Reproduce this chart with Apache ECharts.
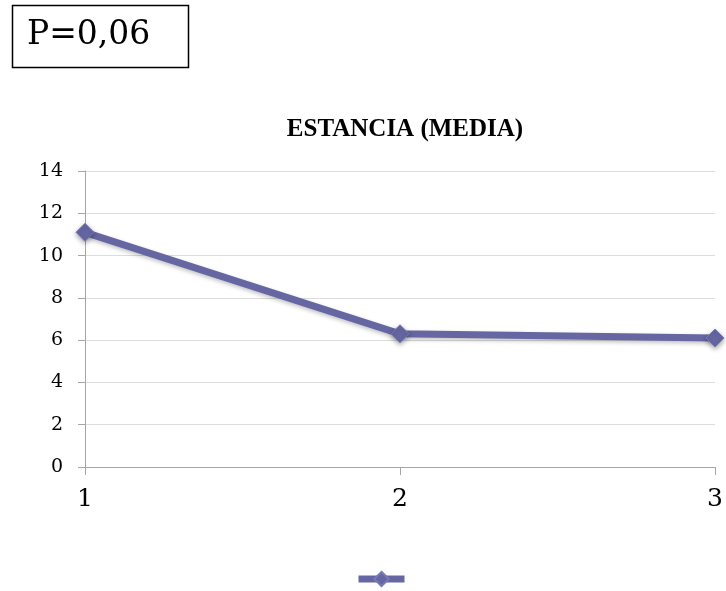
<!DOCTYPE html>
<html>
<head>
<meta charset="utf-8">
<style>
  html, body { margin: 0; padding: 0; background: #fff; }
  #chart { width: 726px; height: 591px; }
</style>
<script src="https://cdn.jsdelivr.net/npm/echarts@6/dist/echarts.min.js"></script>
</head>
<body>
<div id="chart"></div>
<script>
// Mean length of stay per group
const categories = ['1', '2', '3'];
const estanciaMedia = [11.1, 6.3, 6.1];
const yTicks = [0, 2, 4, 6, 8, 10, 12, 14];
const pValueText = 'P=0,06';
const chartTitle = 'ESTANCIA (MEDIA)';

const serif = '"Liberation Serif", "DejaVu Serif", serif';
const wideSerif = '"DejaVu Serif", "Liberation Serif", serif';
const lineColor = '#6666a3';

const chart = echarts.init(document.getElementById('chart'), null, { renderer: 'canvas' });

chart.setOption({
  animation: false,
  backgroundColor: '#ffffff',
  title: {
    text: chartTitle,
    left: 400,
    textAlign: 'center',
    top: 112,
    textStyle: { fontFamily: serif, fontWeight: 'bold', fontSize: 25, color: '#000' }
  },
  graphic: [
    {
      type: 'rect',
      shape: { x: 12.5, y: 5.5, width: 176, height: 62 },
      style: { fill: '#fff', stroke: '#000', lineWidth: 1.5 }
    },
    {
      type: 'text',
      left: 27,
      top: 19,
      style: { text: pValueText, font: '33px ' + wideSerif, fill: '#000' }
    }
  ],
  legend: {
    left: 350,
    top: 565,
    itemWidth: 46,
    itemHeight: 18,
    formatter: () => '',
    lineStyle: { width: 7 },
    data: ['Estancia']
  },
  grid: { left: 85, right: 9, top: 171, bottom: 124, containLabel: false },
  xAxis: {
    type: 'category',
    data: categories,
    boundaryGap: false,
    axisLine: { lineStyle: { color: '#a6a6a6', width: 1 } },
    axisTick: { show: true, length: 8, alignWithLabel: true, lineStyle: { color: '#a6a6a6' } },
    axisLabel: { margin: 20, fontFamily: wideSerif, fontSize: 25, color: '#000' },
    splitLine: { show: false }
  },
  yAxis: {
    type: 'value',
    min: yTicks[0],
    max: yTicks[yTicks.length - 1],
    interval: 2,
    axisLine: { show: true, lineStyle: { color: '#a6a6a6', width: 1 } },
    axisTick: { show: true, length: 7, lineStyle: { color: '#a6a6a6' } },
    axisLabel: { margin: 22, fontFamily: wideSerif, fontSize: 19, color: '#000' },
    splitLine: { show: true, lineStyle: { color: '#dcdcdc', width: 1 } }
  },
  series: [
    {
      name: 'Estancia',
      type: 'line',
      data: estanciaMedia,
      symbol: 'diamond',
      symbolSize: 18,
      lineStyle: {
        color: lineColor,
        width: 7,
        shadowColor: 'rgba(0,0,0,0.25)',
        shadowBlur: 4,
        shadowOffsetY: 2
      },
      itemStyle: {
        color: lineColor,
        borderColor: '#7a7ab3',
        borderWidth: 1,
        shadowColor: 'rgba(0,0,0,0.35)',
        shadowBlur: 5,
        shadowOffsetY: 2
      }
    }
  ]
});
</script>
</body>
</html>
